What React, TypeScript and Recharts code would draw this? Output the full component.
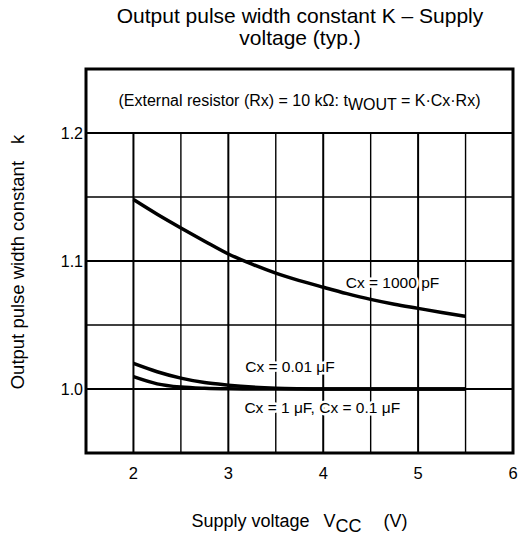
import React from 'react';
import { LineChart, Line, XAxis, YAxis, ReferenceLine, ReferenceArea, ReferenceDot } from 'recharts';

const FONT = '"Liberation Sans", Arial, Helvetica, sans-serif';

// Supply voltage (V)
const voltages = [2, 2.25, 2.5, 2.75, 3, 3.25, 3.5, 3.75, 4, 4.25, 4.5, 4.75, 5, 5.25, 5.5];
// Output pulse width constant K
const k1000pF = [1.148, 1.1365, 1.1258, 1.1155, 1.1055, 1.0975, 1.0905, 1.0847, 1.0795, 1.0745, 1.07, 1.0662, 1.063, 1.0598, 1.0568];
const k001uF = [1.02, 1.0135, 1.0085, 1.005, 1.003, 1.0015, 1.0006, 1.0002, 1.0, 1.0, 1.0, 1.0, 1.0, 1.0, 1.0];
const k1uF = [1.0096, 1.004, 1.0015, 1.0005, 1.0001, 1.0, 1.0, 1.0, 1.0, 1.0, 1.0, 1.0, 1.0, 1.0, 1.0];

const xTicks = [2, 3, 4, 5, 6];
const yTicks = [1.0, 1.1, 1.2];
const xGrid = [2, 2.5, 3, 3.5, 4, 4.5, 5, 5.5];
const yGrid = [1.0, 1.05, 1.1, 1.15];

const curveLabels = [
  { x: 4.73, y: 1.0834, text: 'Cx = 1000 pF' },
  { x: 3.65, y: 1.0172, text: 'Cx = 0.01 μF' },
  { x: 3.99, y: 0.9853, text: 'Cx = 1 μF, Cx = 0.1 μF' },
];

const data = voltages.map((v, i) => ({ v, a: k1000pF[i], b: k001uF[i], c: k1uF[i] }));

const getCenter = (props: any) => {
  const vb = props.viewBox || {};
  return { cx: (vb.x ?? 0) + (vb.width ?? 0) / 2, cy: (vb.y ?? 0) + (vb.height ?? 0) / 2 };
};

const curveLabel = (text: string) => (props: any) => {
  const { cx, cy } = getCenter(props);
  return (
    <text x={cx} y={cy} textAnchor="middle" dominantBaseline="central" fontFamily={FONT} fontSize={15.5}
      fill="#000" stroke="#fff" strokeWidth={5} paintOrder="stroke" strokeLinejoin="round">{text}</text>
  );
};

const headerLabel = (props: any) => {
  const { cx, cy } = getCenter(props);
  return (
    <text x={cx} y={cy + 5} textAnchor="middle" fontFamily={FONT} fontSize={16} fill="#000">
      (External resistor (Rx) = 10 kΩ: t
      <tspan dy={4}>WOUT</tspan>
      <tspan dy={-4}> = K·Cx·Rx)</tspan>
    </text>
  );
};

const xAxisLabel = (props: any) => {
  const vb = props.viewBox || {};
  const cx = (vb.x ?? 0) + (vb.width ?? 0) / 2;
  const y = (vb.y ?? 0) + 74;
  return (
    <text x={cx} y={y} textAnchor="middle" fontFamily={FONT} fontSize={18} fill="#000">
      Supply voltage<tspan dx={14}>V</tspan><tspan dy={5}>CC</tspan><tspan dx={22} dy={-5}>(V)</tspan>
    </text>
  );
};

const yAxisLabel = (props: any) => {
  const vb = props.viewBox || {};
  const cy = (vb.y ?? 0) + (vb.height ?? 0) / 2 + 1;
  const cx = 17;
  return (
    <text x={cx} y={cy} transform={`rotate(-90, ${cx}, ${cy})`} textAnchor="middle" dominantBaseline="central"
      fontFamily={FONT} fontSize={18.5} fill="#000">
      Output pulse width constant<tspan dx={17}>k</tspan>
    </text>
  );
};

export default function App() {
  return (
    <div style={{ position: 'absolute', left: 0, top: 0, width: 523, height: 536, background: '#fff' }}>
      <div style={{ position: 'absolute', left: 0, top: 5, width: 600, textAlign: 'center', fontFamily: FONT, fontSize: 21, lineHeight: '22px', color: '#000' }}>
        Output pulse width constant K – Supply<br />voltage (typ.)
      </div>
      <div style={{ position: 'absolute', left: 0, top: 0 }}>
        <LineChart width={523} height={536} data={data} margin={{ top: 69, right: 10, bottom: 53, left: 26 }}>
          <XAxis dataKey="v" type="number" domain={[1.5, 6]} ticks={xTicks} allowDataOverflow
            axisLine={false} tickLine={false} tickSize={0} tickMargin={14} height={30}
            tick={{ fontSize: 16.5, fill: '#000', fontFamily: FONT }} label={{ content: xAxisLabel }} />
          <YAxis type="number" domain={[0.95, 1.25]} ticks={yTicks} allowDataOverflow width={60}
            axisLine={false} tickLine={false} tickSize={0} tickMargin={3}
            tickFormatter={(t: number) => t.toFixed(1)}
            tick={{ fontSize: 16, fill: '#000', fontFamily: FONT }} label={{ content: yAxisLabel }} />
          {xGrid.map((x) => (
            <ReferenceLine key={'vx' + x} segment={[{ x, y: 0.95 }, { x, y: 1.2 }]} stroke="#000"
              strokeWidth={Number.isInteger(x) ? 2 : 1.4} />
          ))}
          {yGrid.map((y) => (
            <ReferenceLine key={'hy' + y} y={y} stroke="#000"
              strokeWidth={Math.round(y * 100) % 10 === 0 ? 2 : 1.4} />
          ))}
          <ReferenceLine y={1.2} stroke="#000" strokeWidth={2} />
          <ReferenceDot x={3.75} y={1.225} r={0} fill="none" stroke="none" label={{ content: headerLabel }} />
          <Line type="monotone" dataKey="a" stroke="#000" strokeWidth={3.5} dot={false} isAnimationActive={false} />
          <Line type="monotone" dataKey="b" stroke="#000" strokeWidth={3.5} dot={false} isAnimationActive={false} />
          <Line type="monotone" dataKey="c" stroke="#000" strokeWidth={3.5} dot={false} isAnimationActive={false} />
          {curveLabels.map((l) => (
            <ReferenceDot key={l.text} x={l.x} y={l.y} r={0} fill="none" stroke="none" label={{ content: curveLabel(l.text) }} />
          ))}
          <ReferenceArea x1={1.5} x2={6} y1={0.95} y2={1.25} fill="none" stroke="#000" strokeWidth={3} />
        </LineChart>
      </div>
    </div>
  );
}
